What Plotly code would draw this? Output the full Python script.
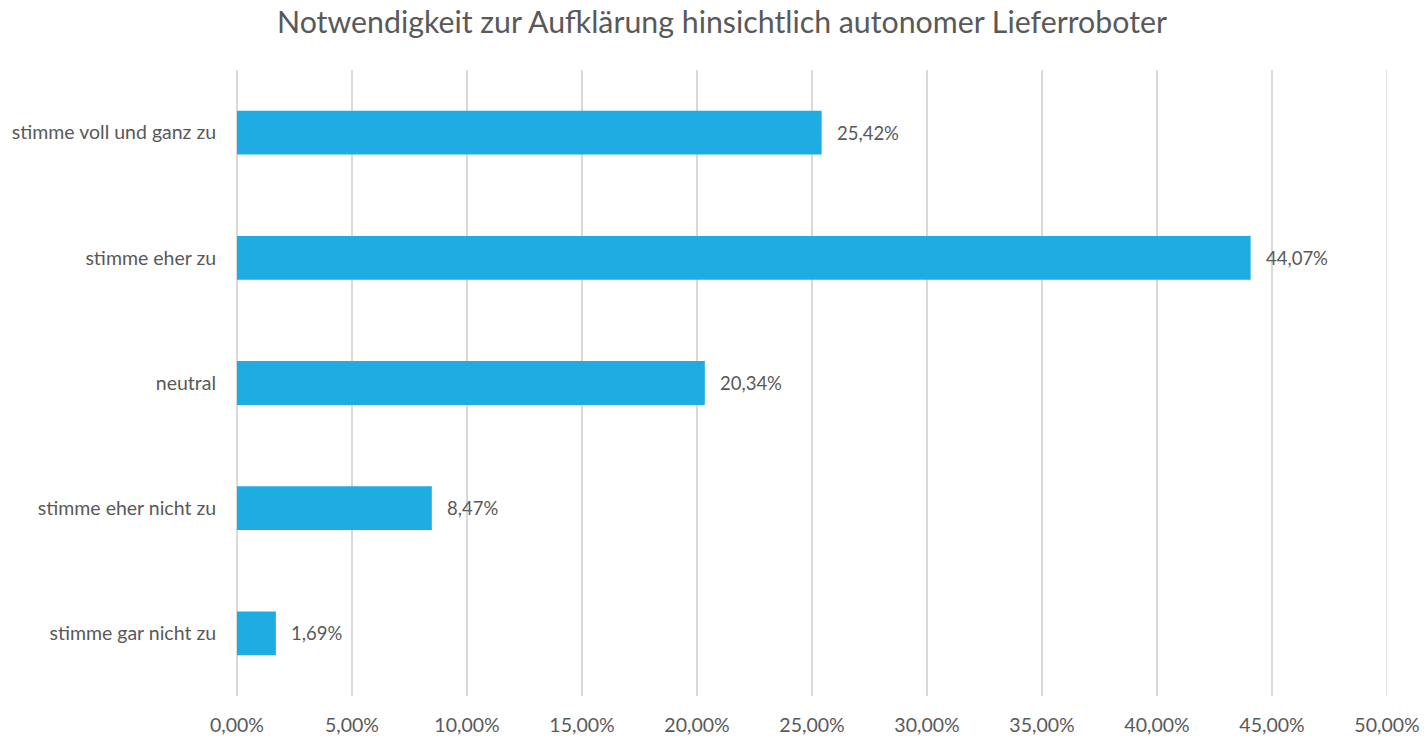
import plotly.graph_objects as go

categories = ["stimme voll und ganz zu", "stimme eher zu", "neutral", "stimme eher nicht zu", "stimme gar nicht zu"]
values = [25.42, 44.07, 20.34, 8.47, 1.69]
labels = ["25,42%", "44,07%", "20,34%", "8,47%", "1,69%"]
tick_vals = [0, 5, 10, 15, 20, 25, 30, 35, 40, 45, 50]
tick_text = ["0,00%", "5,00%", "10,00%", "15,00%", "20,00%", "25,00%", "30,00%", "35,00%", "40,00%", "45,00%", "50,00%"]

FONT = "Lato"
GREY = "#595959"
GRID = "#D9D9D9"

fig = go.Figure()
fig.add_trace(go.Bar(
    x=values, y=categories, orientation="h",
    marker=dict(color="#1EACE3", line=dict(width=0)),
    hoverinfo="skip",
))

for v, c, t in zip(values, categories, labels):
    fig.add_annotation(x=v, y=c, text=t, showarrow=False, xanchor="left", yanchor="middle",
                       xshift=13, font=dict(family=FONT, size=18.5, color=GREY))

# gridline at the right edge of the axis range (Plotly omits it at the boundary)
fig.add_shape(type="line", xref="x", yref="paper", x0=tick_vals[-1], x1=tick_vals[-1], y0=0, y1=1,
              line=dict(color=GRID, width=1.5), layer="below")

fig.update_layout(
    width=1424, height=736,
    margin=dict(l=237, r=37, t=70, b=40, autoexpand=False),
    paper_bgcolor="white", plot_bgcolor="white",
    bargap=0.65,
    showlegend=False,
    title=dict(text="Notwendigkeit zur Aufklärung hinsichtlich autonomer Lieferroboter",
               x=722 / 1424, xanchor="center", xref="container", y=1 - 22 / 736, yref="container", yanchor="middle",
               font=dict(family=FONT, size=30.3, color=GREY)),
    xaxis=dict(range=[0, 50], tickvals=tick_vals, ticktext=tick_text, automargin=False,
               showgrid=True, gridcolor=GRID, gridwidth=1.5,
               zeroline=True, zerolinecolor=GRID, zerolinewidth=1.5,
               showline=False, ticks="outside", ticklen=12, tickcolor="rgba(0,0,0,0)",
               tickfont=dict(family=FONT, size=19.5, color=GREY), fixedrange=True, layer="below traces"),
    yaxis=dict(categoryorder="array", categoryarray=categories[::-1], automargin=False,
               showgrid=False, zeroline=False, showline=False,
               ticks="outside", ticklen=16, tickcolor="rgba(0,0,0,0)",
               tickfont=dict(family=FONT, size=19.5, color=GREY), fixedrange=True),
)
fig.write_html("out.html", config={"displayModeBar": False},
               post_script="document.body.style.margin='0';document.body.style.overflow='hidden';")
